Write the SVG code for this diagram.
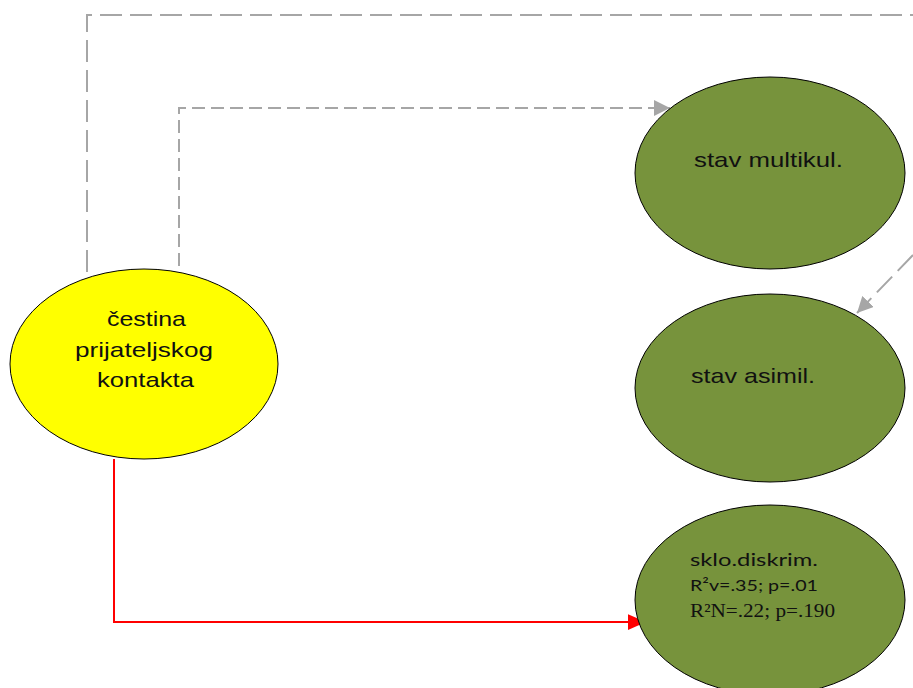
<svg xmlns="http://www.w3.org/2000/svg" width="913" height="688" viewBox="0 0 913 688">
<style>
.grey{fill:none;stroke:#A6A6A6;stroke-width:2}
.red{fill:none;stroke:#FF0000;stroke-width:2}
.node{stroke:#000;stroke-width:1}
.green{fill:#77933C}
.yellow{fill:#FFFF00}
.t{font-family:"Liberation Sans",Arial,sans-serif;font-size:21px;fill:#111}
.c{font-family:Lato,"Open Sans",sans-serif;fill:#111}
.s{font-family:"Liberation Serif","Times New Roman",serif;fill:#111}
</style>
<defs>
<marker id="ag" markerUnits="userSpaceOnUse" markerWidth="16" markerHeight="16" viewBox="0 0 14 14" refX="14" refY="7" orient="auto">
<path d="M0,0 L14,7 L0,14 Z" fill="#A6A6A6"/>
</marker>
<marker id="ar" markerUnits="userSpaceOnUse" markerWidth="18" markerHeight="16" viewBox="0 0 16 14" refX="16" refY="7" orient="auto">
<path d="M0,0 L16,7 L0,14 Z" fill="#FF0000"/>
</marker>
</defs>
<rect width="913" height="688" fill="#fff"/>
<g id="connectors">
<path class="grey" d="M87,272 V15 H913" stroke-dasharray="22 8"/>
<path class="grey" d="M179,266 V108 H670" stroke-dasharray="13 6" marker-end="url(#ag)"/>
<path class="grey" d="M913,255 L857,313" stroke-dasharray="22 8" marker-end="url(#ag)"/>
<path class="red" d="M114,459 V622 H646" marker-end="url(#ar)"/>
</g>
<g id="node-cestina">
<ellipse class="node yellow" cx="144" cy="364" rx="134" ry="95"/>
<text class="t" x="107" y="326" textLength="79" lengthAdjust="spacingAndGlyphs">čestina</text>
<text class="t" x="75" y="357" textLength="138" lengthAdjust="spacingAndGlyphs">prijateljskog</text>
<text class="t" x="97" y="387" textLength="97" lengthAdjust="spacingAndGlyphs">kontakta</text>
</g>
<g id="node-multikul">
<ellipse class="node green" cx="770" cy="173" rx="135" ry="96"/>
<text class="t" x="694" y="167" textLength="149" lengthAdjust="spacingAndGlyphs">stav  multikul.</text>
</g>
<g id="node-asimil">
<ellipse class="node green" cx="770" cy="388" rx="135" ry="94"/>
<text class="t" x="691" y="383" textLength="124" lengthAdjust="spacingAndGlyphs">stav asimil.</text>
</g>
<g id="node-diskrim">
<ellipse class="node green" cx="770" cy="600" rx="135" ry="95"/>
<text class="c" x="690" y="566" font-size="17" textLength="128" lengthAdjust="spacingAndGlyphs">sklo.diskrim.</text>
<text class="c" x="690" y="591" font-size="16" textLength="128" lengthAdjust="spacingAndGlyphs">R²v=.35; p=.01</text>
<text class="s" x="690" y="617" font-size="19" textLength="145" lengthAdjust="spacingAndGlyphs">R²N=.22; p=.190</text>
</g>
</svg>
